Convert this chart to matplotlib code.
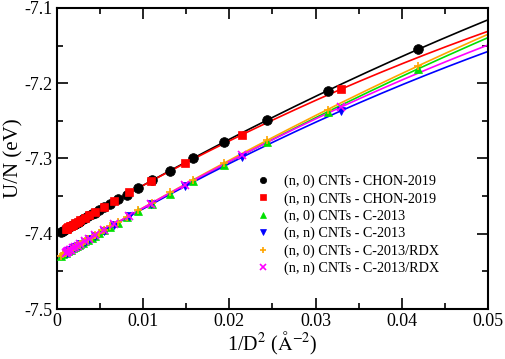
import numpy as np
import matplotlib
matplotlib.use("Agg")
import matplotlib.pyplot as plt
from matplotlib.ticker import MultipleLocator

plt.rcParams['font.family'] = ['Liberation Serif', 'DejaVu Serif']
plt.rcParams['mathtext.fontset'] = 'stix'
plt.rcParams['axes.unicode_minus'] = False

# 1/D^2 values (A^-2)
x_n0 = [0.0419, 0.0314, 0.0244, 0.0194, 0.0158, 0.0131, 0.0110, 0.0094, 0.0081,
        0.0071, 0.0062, 0.0055, 0.0049, 0.0044, 0.0040, 0.0036, 0.0033, 0.0030,
        0.0027, 0.0025, 0.0023, 0.0021, 0.0019, 0.0016, 0.0013, 0.0010, 0.0007, 0.0004]
x_nn = [0.0329, 0.0215, 0.0149, 0.0109, 0.0084, 0.0066, 0.0054, 0.0044, 0.0037,
        0.0032, 0.0027, 0.0024, 0.0021, 0.00185, 0.00165, 0.0015, 0.0013, 0.0012,
        0.0011, 0.0010]

# U/N (eV)
y_n0_chon = [-7.155, -7.210, -7.249, -7.278, -7.299, -7.317, -7.329, -7.339, -7.348,
             -7.354, -7.360, -7.364, -7.368, -7.372, -7.374, -7.377, -7.379, -7.381,
             -7.383, -7.384, -7.386, -7.387, -7.388, -7.390, -7.392, -7.394, -7.396, -7.398]
y_nn_chon = [-7.208, -7.269, -7.306, -7.330, -7.345, -7.357, -7.364, -7.371, -7.375,
             -7.379, -7.382, -7.384, -7.386, -7.388, -7.389, -7.390, -7.391, -7.392,
             -7.393, -7.393]
y_n0_c2013 = [-7.181, -7.238, -7.278, -7.308, -7.330, -7.347, -7.360, -7.370, -7.378,
              -7.385, -7.391, -7.395, -7.399, -7.403, -7.405, -7.408, -7.410, -7.412,
              -7.414, -7.415, -7.416, -7.418, -7.419, -7.421, -7.423, -7.425, -7.427, -7.429]
y_nn_c2013 = [-7.237, -7.298, -7.337, -7.361, -7.377, -7.388, -7.396, -7.403, -7.407,
              -7.411, -7.414, -7.416, -7.418, -7.419, -7.421, -7.422, -7.423, -7.424,
              -7.425, -7.425]
y_n0_rdx = [-7.177, -7.235, -7.276, -7.306, -7.328, -7.345, -7.359, -7.369, -7.378,
            -7.384, -7.390, -7.395, -7.399, -7.402, -7.405, -7.407, -7.410, -7.411,
            -7.413, -7.415, -7.416, -7.418, -7.419, -7.421, -7.423, -7.425, -7.427, -7.429]
y_nn_rdx = [-7.232, -7.295, -7.335, -7.360, -7.376, -7.387, -7.395, -7.402, -7.407,
            -7.410, -7.413, -7.416, -7.418, -7.419, -7.421, -7.422, -7.423, -7.424,
            -7.424, -7.425]

series = [
    (x_n0, y_n0_chon, 'k', 'o', '(n, 0) CNTs - CHON-2019'),
    (x_nn, y_nn_chon, '#ff0000', 's', '(n, n) CNTs - CHON-2019'),
    (x_n0, y_n0_c2013, '#00e000', '^', '(n, 0) CNTs - C-2013'),
    (x_nn, y_nn_c2013, '#0000ff', 'v', '(n, n) CNTs - C-2013'),
    (x_n0, y_n0_rdx, '#ffa500', '+', '(n, 0) CNTs - C-2013/RDX'),
    (x_nn, y_nn_rdx, '#ff00ff', 'x', '(n, n) CNTs - C-2013/RDX'),
]

fig = plt.figure(figsize=(5.05, 3.59), dpi=100)
ax = fig.add_axes([0.113, 0.139, 0.853, 0.839])

# quadratic fits in 1/D^2, drawn over the full range
xfit = np.linspace(0, 0.05, 200)
for xs, ys, col, mk, lab in series:
    coef = np.polyfit(xs, ys, 2)
    ax.plot(xfit, np.polyval(coef, xfit), color=col, lw=1.2, zorder=2)
for xs, ys, col, mk, lab in series:
    ms = 7 if mk == 'o' else 6
    mew = 1.2 if mk in '+x' else 0.5
    ax.plot(xs, ys, ls='none', marker=mk, color=col, ms=ms, mew=mew, label=lab, zorder=3)

ax.set_xlim(0, 0.05)
ax.set_ylim(-7.5, -7.1)
ax.xaxis.set_major_locator(MultipleLocator(0.01))
ax.xaxis.set_minor_locator(MultipleLocator(0.005))
ax.yaxis.set_major_locator(MultipleLocator(0.1))
ax.yaxis.set_minor_locator(MultipleLocator(0.05))
ax.xaxis.set_major_formatter(plt.FuncFormatter(lambda v, p: '0' if abs(v) < 1e-9 else '%g' % round(v, 3)))
ax.yaxis.set_major_formatter(plt.FuncFormatter(lambda v, p: '%.1f' % v))
ax.tick_params(which='both', direction='in', top=True, right=True, labelsize=13, width=1.2)
ax.tick_params(which='major', length=8, pad=3)
ax.tick_params(which='minor', length=4)
for s in ax.spines.values():
    s.set_linewidth(1.5)

ax.set_xlabel(r'1/D$^2$ ($\mathrm{\AA}^{-2}$)', fontsize=14.5, labelpad=0)
ax.set_ylabel('U/N (eV)', fontsize=15, labelpad=1)

ax.legend(loc='upper left', bbox_to_anchor=(0.445, 0.47), frameon=False, fontsize=10.2,
          markerscale=0.65, handlelength=1.0, handletextpad=1.0, labelspacing=0.28,
          borderpad=0)

fig.savefig('out.png', dpi=100)
